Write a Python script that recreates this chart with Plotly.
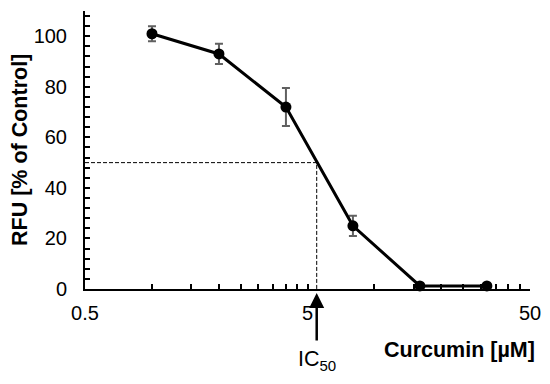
import math
import plotly.graph_objects as go

# ---- data ----
conc_uM = [1, 2, 4, 8, 16, 32]
rfu_pct = [101, 93, 72, 25, 1.2, 1.2]
rfu_err = [3, 4, 7.5, 4, 0.5, 0.5]
ic50 = 5.5
half_level = 50

x_tick_vals = [0.5, 1, 1.5, 2, 2.5, 3, 3.5, 4, 4.5, 5,
               10, 15, 20, 25, 30, 35, 40, 45, 50]
x_tick_text = ["0.5", "", "", "", "", "", "", "", "", "5",
               "", "", "", "", "", "", "", "", "50"]
y_tick_vals = [0, 20, 40, 60, 80, 100]
y_tick_text = ["0", "20", "40", "60", "80", "100"]

x_title = "Curcumin [µM]"
y_title = "RFU [% of Control]"
ic50_label = "IC<sub>50</sub>"

FONT = "Liberation Sans, Arial, sans-serif"

fig = go.Figure()

# IC50 guide lines
fig.add_trace(go.Scatter(
    x=[x_tick_vals[0], ic50, ic50], y=[half_level, half_level, 0],
    mode="lines", line=dict(color="black", width=1, dash="4px,2px"),
    hoverinfo="skip", showlegend=False, cliponaxis=False))

# main curve
fig.add_trace(go.Scatter(
    x=conc_uM, y=rfu_pct, mode="lines+markers",
    line=dict(color="black", width=3),
    marker=dict(color="black", size=11),
    error_y=dict(type="data", array=rfu_err, color="#606060",
                 thickness=2, width=4),
    showlegend=False, cliponaxis=False))

# page body has an 8px margin, so the figure is 8px smaller and shifted
fig.update_layout(
    width=542, height=376,
    margin=dict(l=77, r=20, t=3, b=95, autoexpand=False),
    paper_bgcolor="white", plot_bgcolor="white",
    font=dict(family=FONT, size=20, color="black"),
    xaxis=dict(type="log", range=[math.log10(0.5), math.log10(50)],
               tickvals=x_tick_vals, ticktext=x_tick_text,
               ticks="inside", ticklen=5, tickwidth=1.5, tickcolor="black",
               showline=True, linecolor="black", linewidth=2,
               showgrid=False, zeroline=False, ticklabelstandoff=5,
               automargin=False),
    yaxis=dict(range=[0, 110], tickvals=y_tick_vals, ticktext=y_tick_text,
               ticks="inside", ticklen=5, tickwidth=1.5, tickcolor="black",
               showline=True, linecolor="black", linewidth=2,
               showgrid=False, zeroline=False, ticklabelstandoff=12,
               automargin=False,
               minor=dict(dtick=4, ticks="inside", ticklen=5,
                          tickwidth=1.5, tickcolor="black")),
    annotations=[
        dict(x=math.log10(ic50), y=0, xref="x", yref="y",
             text="", showarrow=True, ax=0, ay=53, axref="pixel",
             arrowhead=2, arrowsize=1.2, arrowwidth=2.5,
             arrowcolor="black", standoff=4),
        dict(x=math.log10(ic50), y=0, xref="x", yref="y",
             text=ic50_label, showarrow=False, yshift=-71,
             xanchor="center", yanchor="middle",
             font=dict(family=FONT, size=21.5, color="black")),
        dict(x=1, y=0, xref="paper", yref="paper", text="<b>%s</b>" % x_title,
             showarrow=False, xanchor="right", yanchor="middle",
             xshift=7, yshift=-61,
             font=dict(family=FONT, size=21.5, color="black")),
        dict(x=0, y=0.5, xref="paper", yref="paper", text="<b>%s</b>" % y_title,
             showarrow=False, textangle=-90, xanchor="center",
             yanchor="middle", xshift=-65,
             font=dict(family=FONT, size=21.5, color="black")),
    ],
)

fig.write_html("out.html")
